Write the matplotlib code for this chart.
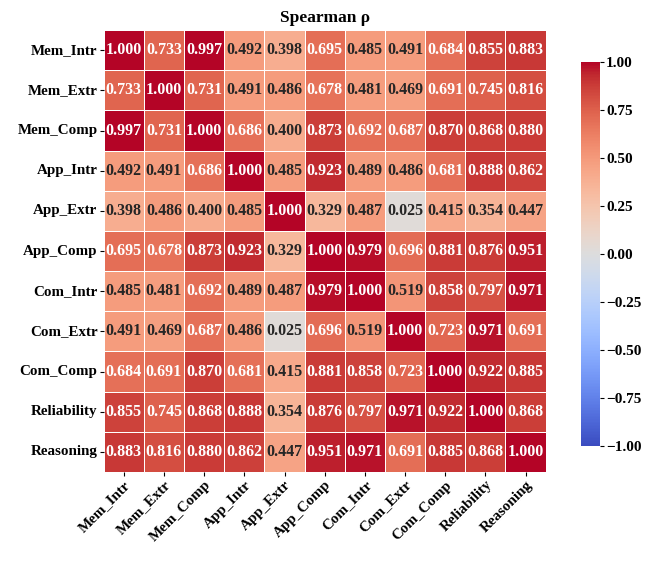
import matplotlib
matplotlib.use("Agg")
import matplotlib.pyplot as plt
import numpy as np
import pandas as pd
import seaborn as sns

labels = ["Mem_Intr", "Mem_Extr", "Mem_Comp", "App_Intr", "App_Extr", "App_Comp",
          "Com_Intr", "Com_Extr", "Com_Comp", "Reliability", "Reasoning"]

rho = np.array([
    [1.000, 0.733, 0.997, 0.492, 0.398, 0.695, 0.485, 0.491, 0.684, 0.855, 0.883],
    [0.733, 1.000, 0.731, 0.491, 0.486, 0.678, 0.481, 0.469, 0.691, 0.745, 0.816],
    [0.997, 0.731, 1.000, 0.686, 0.400, 0.873, 0.692, 0.687, 0.870, 0.868, 0.880],
    [0.492, 0.491, 0.686, 1.000, 0.485, 0.923, 0.489, 0.486, 0.681, 0.888, 0.862],
    [0.398, 0.486, 0.400, 0.485, 1.000, 0.329, 0.487, 0.025, 0.415, 0.354, 0.447],
    [0.695, 0.678, 0.873, 0.923, 0.329, 1.000, 0.979, 0.696, 0.881, 0.876, 0.951],
    [0.485, 0.481, 0.692, 0.489, 0.487, 0.979, 1.000, 0.519, 0.858, 0.797, 0.971],
    [0.491, 0.469, 0.687, 0.486, 0.025, 0.696, 0.519, 1.000, 0.723, 0.971, 0.691],
    [0.684, 0.691, 0.870, 0.681, 0.415, 0.881, 0.858, 0.723, 1.000, 0.922, 0.885],
    [0.855, 0.745, 0.868, 0.888, 0.354, 0.876, 0.797, 0.971, 0.922, 1.000, 0.868],
    [0.883, 0.816, 0.880, 0.862, 0.447, 0.951, 0.971, 0.691, 0.885, 0.868, 1.000],
])

plt.rcParams['font.family'] = ['Liberation Serif', 'DejaVu Serif']
plt.rcParams['font.weight'] = 'bold'

df = pd.DataFrame(rho, index=labels, columns=labels)

fig = plt.figure(figsize=(6.52, 5.63), dpi=100)
ax = fig.add_axes([0.155, 0.1616, 0.686, 0.785])
cax = fig.add_axes([0.891, 0.208, 0.029, 0.682])

sns.heatmap(df, ax=ax, cbar_ax=cax, cmap="coolwarm", vmin=-1, vmax=1,
            annot=True, fmt=".3f", square=True, linewidths=0.5, linecolor="white",
            annot_kws={"fontsize": 11.5, "fontweight": "bold"})

ax.set_title("Spearman ρ", fontsize=12.5, fontweight="bold", pad=6)
ax.set_xticklabels(labels, rotation=45, ha="right", rotation_mode="anchor",
                   fontsize=10.8, fontweight="bold")
ax.set_yticklabels(labels, rotation=0, fontsize=10.8, fontweight="bold")
ax.tick_params(length=3, pad=1.5)

cax.tick_params(labelsize=11, length=3, pad=1.5)
cax.set_yticks([-1, -0.75, -0.5, -0.25, 0, 0.25, 0.5, 0.75, 1])
cax.set_yticklabels(["\u22121.00", "\u22120.75", "\u22120.50", "\u22120.25", "0.00",
                     "0.25", "0.50", "0.75", "1.00"], fontweight="bold")

fig.savefig("out.png", dpi=100)
